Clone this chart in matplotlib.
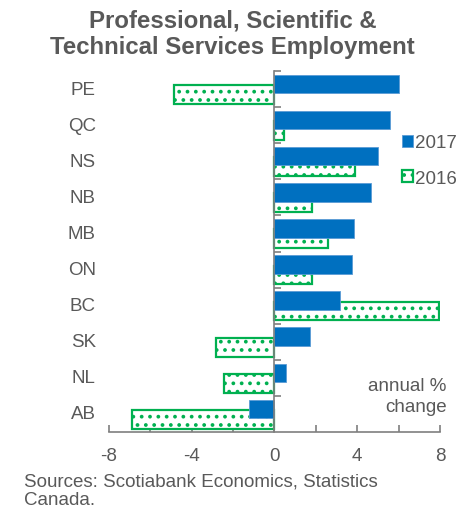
import matplotlib.pyplot as plt
import matplotlib as mpl

plt.rcParams['font.family'] = ['Liberation Sans', 'DejaVu Sans']
mpl.rcParams['hatch.linewidth'] = 1.5

provinces = ["PE", "QC", "NS", "NB", "MB", "ON", "BC", "SK", "NL", "AB"]
chg2017 = [6.0, 5.6, 5.0, 4.65, 3.85, 3.75, 3.15, 1.7, 0.55, -1.25]
chg2016 = [-4.85, 0.45, 3.9, 1.8, 2.6, 1.8, 7.95, -2.85, -2.45, -6.9]
xticks = [-8, -6, -4, -2, 0, 2, 4, 6, 8]

gray = "#595959"
blue = "#0070C0"
green = "#00B050"

fig = plt.figure(figsize=(4.65, 5.1), dpi=100)
ax = fig.add_axes([0.2344, 0.151, 0.7118, 0.7078])

ypos = list(range(len(provinces)))
ax.barh([y + 0.15 for y in ypos], chg2016, height=0.52, color="white",
        edgecolor=green, hatch="..", linewidth=1.6, label="2016", zorder=2)
ax.barh([y - 0.14 for y in ypos], chg2017, height=0.51, color=blue,
        edgecolor="#5B9BD5", linewidth=0.6, label="2017", zorder=3)

ax.set_xlim(-8, 8)
ax.set_ylim(len(provinces) - 0.5, -0.5)

for s in ["top", "right"]:
    ax.spines[s].set_visible(False)
ax.spines["left"].set_position(("data", 0))
for s in ["left", "bottom"]:
    ax.spines[s].set_color("#7f7f7f")
    ax.spines[s].set_linewidth(1.2)
    ax.spines[s].set_zorder(4)

ax.set_yticks([y - 0.5 for y in ypos])
ax.set_yticklabels([])
ax.tick_params(axis="y", direction="in", length=5, color="#7f7f7f", width=1.2)
ax.set_xticks(xticks)
ax.set_xticklabels([str(t) if t % 4 == 0 else "" for t in xticks])
ax.tick_params(axis="x", direction="in", length=5, color="#7f7f7f", width=1.2,
               labelsize=13.5, labelcolor=gray, pad=11)

for y, name in zip(ypos, provinces):
    ax.text(-0.04, y, name, transform=ax.get_yaxis_transform(),
            ha="right", va="center", fontsize=13.5, color=gray)

handles, labels = ax.get_legend_handles_labels()
leg = fig.legend(handles[::-1], labels[::-1], loc="center left",
                 bbox_to_anchor=(0.864, 0.683), frameon=False, fontsize=13.5,
                 handlelength=0.6, handleheight=0.6, handletextpad=0.12,
                 labelspacing=1.0, borderpad=0, borderaxespad=0)
for t in leg.get_texts():
    t.set_color(gray)

ax.text(1.02, 0.10, "annual %\nchange", transform=ax.transAxes, ha="right",
        va="center", fontsize=13.5, color=gray, linespacing=1.35)

fig.text(0.5, 0.982, "Professional, Scientific &\nTechnical Services Employment",
         ha="center", va="top", fontsize=17.3, fontweight="bold", color=gray,
         linespacing=1.2)
fig.text(0.052, 0.072, "Sources: Scotiabank Economics, Statistics\nCanada.",
         ha="left", va="top", fontsize=13.5, color=gray, linespacing=1.1)

fig.savefig("out.png", dpi=100)
